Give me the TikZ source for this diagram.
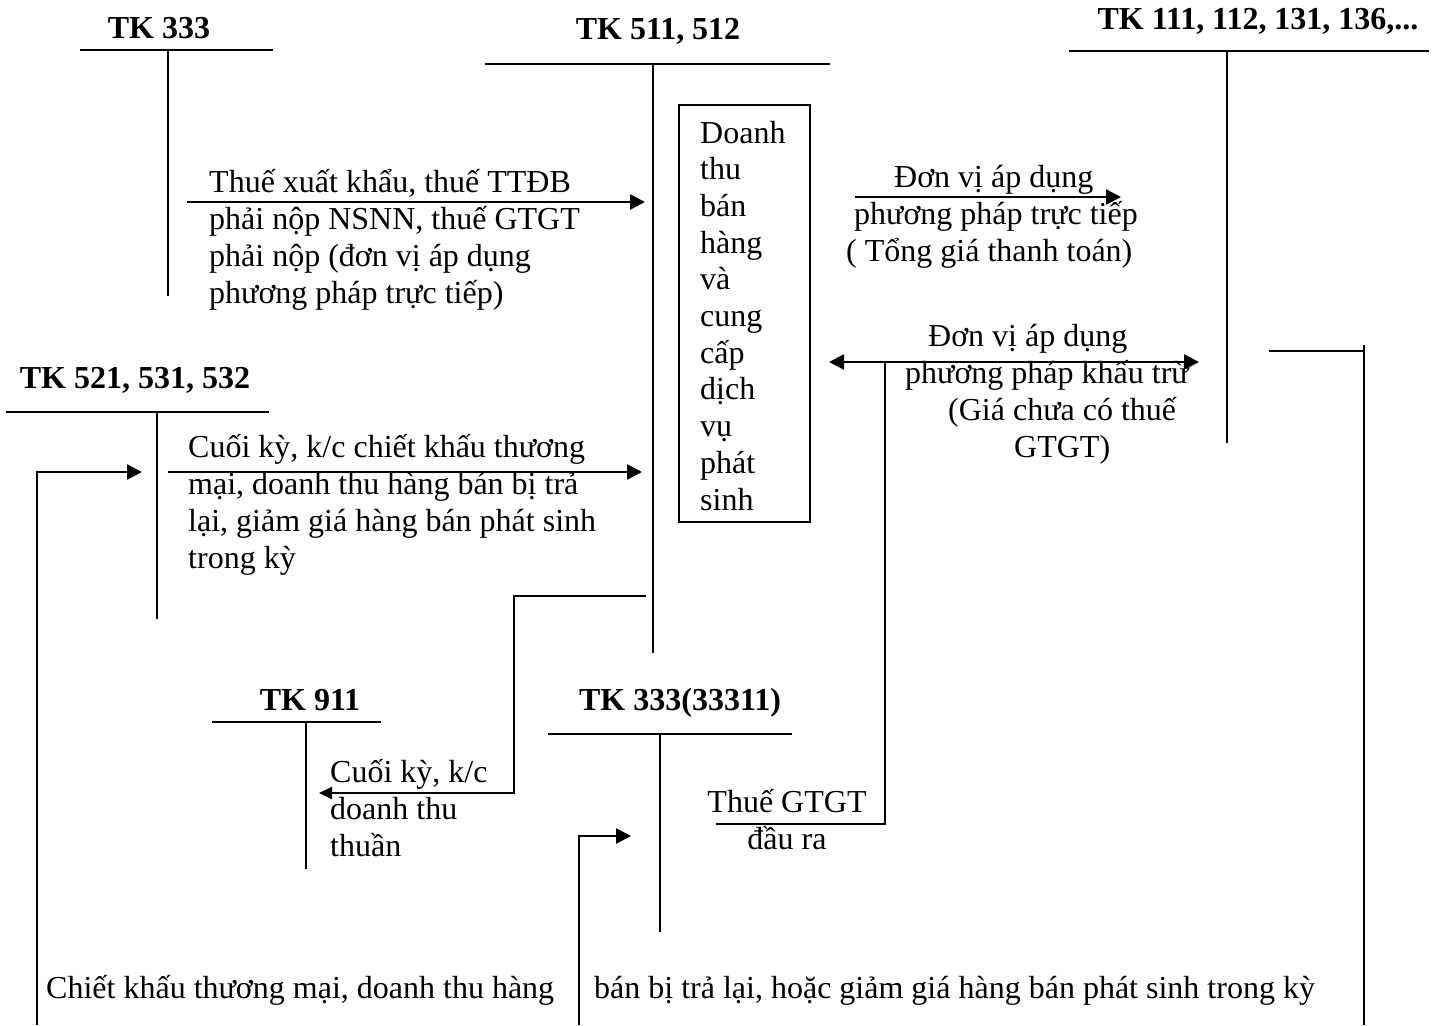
\documentclass[tikz,border=0pt]{standalone}
\usepackage{fontspec}
\setmainfont{Liberation Serif}
\usetikzlibrary{arrows.meta,positioning}
\newcommand{\tacc}[5]{% left, right, top, stem x, stem end
  \draw[tline] (#1,#3) -- (#2,#3);
  \draw[tline] (#4,#3) -- (#4,#5);}
\tikzset{
  tk/.style={font=\fontsize{32}{36.7}\selectfont\bfseries,inner sep=0pt,anchor=base},
  txt/.style={align=left,inner sep=0pt,anchor=base west},
  tline/.style={line width=1.8pt},
  wire/.style={line width=2.4pt},
  ar/.style={wire,-{Triangle[length=15pt,width=15pt]}},
  sar/.style={line width=2pt,-{Triangle[length=13pt,width=12pt]}},
  dar/.style={wire,{Triangle[length=15pt,width=15pt]}-{Triangle[length=15pt,width=15pt]}},
}

\begin{document}
\begin{tikzpicture}[x=1pt,y=-1pt,font=\fontsize{32}{36.7}\selectfont]
  \useasboundingbox (0,0) rectangle (1439,1025);
  % accounts
  \node[tk] (t333) at (159,38) {TK 333};
  \node[tk] (t511) at (658,40) {TK 511, 512};
  \node[tk] (t111) at (1258,30) {TK 111, 112, 131, 136,...};
  \node[tk] (t521) at (135,388) {TK 521, 531, 532};
  \node[tk] (t911) at (310,710) {TK 911};
  \node[tk] (t3331) at (680,710) {TK 333(33311)};
  \tacc{80}{273}{50}{168}{296}
  \tacc{485}{830}{64}{653}{653}
  \tacc{1069}{1429}{51}{1227}{443}
  \tacc{6}{269}{412}{157}{619}
  \tacc{212}{381}{722}{306}{869}
  \tacc{548}{792}{734}{660}{932}
  \draw[tline] (1269,351) -- (1364,351);
  \draw[tline] (1364,345) -- (1364,1025);
  % revenue box (base = last line)
  \draw[tline] (679,105) rectangle (810,522);
  \node[txt] (dt) at (700,510) {Doanh\\thu\\bán\\hàng\\và\\cung\\cấp\\dịch\\vụ\\phát\\sinh};
  % end points
  \coordinate (a1) at (187,202);  \coordinate (b1) at (645,202);
  \coordinate (a2) at (168,472);  \coordinate (b2) at (642,472);
  \coordinate (a3) at (855,197);  \coordinate (b3) at (1121,197);
  \coordinate (a4) at (829,362);  \coordinate (b4) at (1199,362);
  \coordinate (c4) at (885,362);  \coordinate (d4) at (716,824);
  \coordinate (a5) at (646,596);  \coordinate (b5) at (319,793);
  \coordinate (m5) at (514,596);
  \coordinate (a6) at (37,1025);  \coordinate (b6) at (142,472);
  \coordinate (a7) at (579,1025); \coordinate (b7) at (631,836);
  \draw[ar] (a1) -- (b1);
  \draw[ar] (a2) -- (b2);
  \draw[ar] (a3) -- (b3);
  \draw[dar] (a4) -- (b4);
  \draw[tline] (c4) |- (d4);
  \draw[sar] (a5) -- (m5) |- (b5);
  \draw[ar] (a6) |- (b6);
  \draw[ar] (a7) |- (b7);
  % labels
  \node[txt] (l1) at (209,303) {Thuế xuất khẩu, thuế TTĐB\\phải nộp NSNN, thuế GTGT\\phải nộp (đơn vị áp dụng\\phương pháp trực tiếp)};
  \node[txt] (l2) at (188,568) {Cuối kỳ, k/c chiết khấu thương\\mại, doanh thu hàng bán bị trả\\lại, giảm giá hàng bán phát sinh\\trong kỳ};
  \node[txt] (l3) at (846,261) {\hspace*{48pt}Đơn vị áp dụng\\\hspace*{8pt}phương pháp trực tiếp\\( Tổng giá thanh toán)};
  \node[txt] (l4) at (905,457) {\hspace*{23pt}Đơn vị áp dụng\\phương pháp khấu trừ\\\hspace*{43pt}(Giá chưa có thuế\\\hspace*{109pt}GTGT)};
  \node[txt] (l5) at (330,856) {Cuối kỳ, k/c\\doanh thu\\thuần};
  \node[txt,align=center,anchor=base] (l6) at (787,849) {Thuế GTGT\\đầu ra};
  \node[txt] (l7) at (46,998) {Chiết khấu thương mại, doanh thu hàng};
  \node[txt] (l8) at (594,998) {bán bị trả lại, hoặc giảm giá hàng bán phát sinh trong kỳ};
\end{tikzpicture}
\end{document}
